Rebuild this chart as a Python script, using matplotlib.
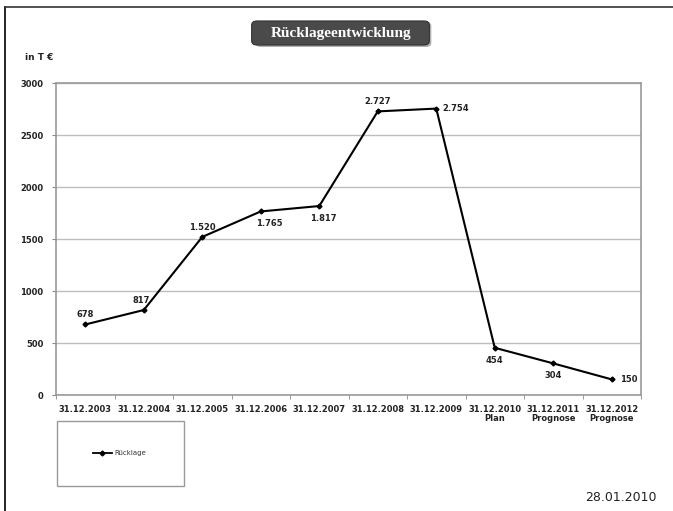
import matplotlib
matplotlib.use("Agg")
import matplotlib.pyplot as plt
from matplotlib.patches import FancyBboxPatch, Rectangle
from matplotlib.lines import Line2D

categories = ["31.12.2003", "31.12.2004", "31.12.2005", "31.12.2006", "31.12.2007",
              "31.12.2008", "31.12.2009", "31.12.2010\nPlan", "31.12.2011\nPrognose",
              "31.12.2012\nPrognose"]
values = [678, 817, 1520, 1765, 1817, 2727, 2754, 454, 304, 150]
yticks = [0, 500, 1000, 1500, 2000, 2500, 3000]
series_name = "Rücklage"
title = "Rücklageentwicklung"
unit = "in T €"
date_text = "28.01.2010"

# label placement (offset in points)
offsets = [(0, 7), (-2, 7), (0, 7), (6, -9), (3, -9), (0, 7), (14, 0), (0, -9), (0, -9), (12, 0)]

def fmt(v):
    return f"{v:,}".replace(",", ".")

W, H = 673, 511
fig = plt.figure(figsize=(W / 100, H / 100), dpi=100)
fig.patch.set_facecolor("white")

ax = fig.add_axes([56 / W, 1 - 395 / H, (641 - 56) / W, (395 - 83) / H])
x = list(range(len(values)))
ax.plot(x, values, color="black", lw=1.5, marker="D", ms=2.5, zorder=3)
ax.set_xlim(-0.5, len(values) - 0.5)
ax.set_ylim(0, 3000)
ax.set_yticks(yticks)
ax.set_yticklabels([str(t) for t in yticks], fontsize=6, fontweight="bold", color="#222222")
ax.set_xticks(x)
ax.set_xticklabels(categories, fontsize=6, fontweight="bold", color="#222222", linespacing=1.1)
ax.tick_params(axis="x", length=0, pad=7)
ax.tick_params(axis="y", length=3, color="#888888", pad=6)
ax.set_xticks([i - 0.5 for i in range(len(values) + 1)], minor=True)
ax.tick_params(axis="x", which="minor", length=3, color="#888888")
ax.grid(axis="y", color="#bdbdbd", lw=1)
ax.set_axisbelow(True)
for s in ax.spines.values():
    s.set_color("#999999")
    s.set_linewidth(1.2)

for xi, v, (dx, dy) in zip(x, values, offsets):
    ax.annotate(fmt(v), (xi, v), xytext=(dx, dy), textcoords="offset points",
                ha="center", va="center", fontsize=6, fontweight="bold", color="#222222")

# outer frame (left and top)
fig.add_artist(Line2D([5 / W, 5 / W], [0, 1 - 7 / H], color="black", lw=1.2))
fig.add_artist(Line2D([5 / W, 1], [1 - 7 / H, 1 - 7 / H], color="#333333", lw=1.2))

# title box
fig.add_artist(FancyBboxPatch((257 / W, 1 - 46 / H), (430 - 257) / W, (46 - 23) / H,
                              boxstyle="round,pad=0.002,rounding_size=0.008",
                              fc="#b0b0b0", ec="none", transform=fig.transFigure))
fig.add_artist(FancyBboxPatch((253 / W, 1 - 44 / H), (428 - 253) / W, (44 - 22) / H,
                              boxstyle="round,pad=0.002,rounding_size=0.008",
                              fc="#4a4a4a", ec="#333333", lw=0.8, transform=fig.transFigure))
fig.text(341 / W, 1 - 33 / H, title, ha="center", va="center", fontsize=11,
         fontweight="bold", family="Liberation Serif", color="white")

fig.text(25 / W, 1 - 58 / H, unit, ha="left", va="center", fontsize=6.5,
         fontweight="bold", color="#222222")

# legend box
fig.add_artist(Rectangle((57 / W, 1 - 486 / H), (184 - 57) / W, (486 - 421) / H,
                         fc="white", ec="#999999", lw=1, transform=fig.transFigure))
fig.add_artist(Line2D([93 / W, 112 / W], [1 - 453 / H] * 2, color="black", lw=1.3))
fig.add_artist(Line2D([102.5 / W], [1 - 453 / H], color="black", marker="D", ms=2.5))
fig.text(114 / W, 1 - 453 / H, series_name, ha="left", va="center", fontsize=5,
         color="#333333")

fig.text(657 / W, 1 - 497 / H, date_text, ha="right", va="center", fontsize=9,
         color="#222222")

fig.savefig("out.png", dpi=100)
